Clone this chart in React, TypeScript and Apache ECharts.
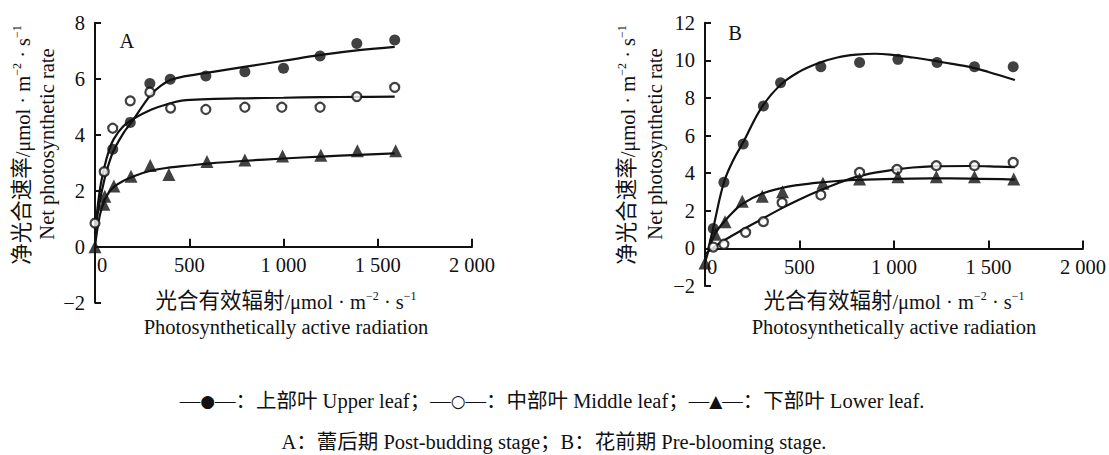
import React, { useEffect, useRef } from 'react';
import * as echarts from 'echarts';

// ---------- Data ----------
// Panel A: 蕾后期 Post-budding stage
const upperA: number[][] = [[94, 3.48], [187, 4.44], [291, 5.83], [399, 5.98], [588, 6.1], [795, 6.25], [1000, 6.37], [1194, 6.81], [1389, 7.26], [1590, 7.38]];
const middleA: number[][] = [[0, 0.84], [49, 2.68], [94, 4.23], [187, 5.21], [291, 5.52], [401, 4.95], [588, 4.9], [795, 4.98], [991, 4.98], [1194, 4.98], [1389, 5.36], [1590, 5.69]];
const lowerA: number[][] = [[0, 0], [47, 1.52], [52, 1.8], [100, 2.17], [191, 2.52], [293, 2.9], [392, 2.58], [594, 3.04], [795, 3.1], [995, 3.24], [1198, 3.27], [1392, 3.43], [1595, 3.43]];

const upperFitA: number[][] = [[0, 0.5], [25, 1.6], [50, 2.4], [75, 3.0], [100, 3.45], [150, 4.05], [200, 4.5], [250, 5.0], [300, 5.45], [350, 5.75], [400, 5.95], [450, 6.05], [600, 6.22], [800, 6.43], [1000, 6.64], [1200, 6.85], [1400, 7.02], [1590, 7.14]];
const middleFitA: number[][] = [[0, 0.5], [25, 2.0], [50, 2.85], [75, 3.45], [100, 3.85], [150, 4.3], [200, 4.55], [300, 4.9], [400, 5.12], [460, 5.22], [600, 5.27], [800, 5.3], [1000, 5.32], [1200, 5.34], [1400, 5.35], [1590, 5.36]];
const lowerFitA: number[][] = [[0, 0], [25, 1.1], [50, 1.65], [75, 1.95], [100, 2.14], [150, 2.35], [200, 2.5], [300, 2.72], [400, 2.83], [500, 2.9], [600, 2.97], [800, 3.07], [1000, 3.15], [1200, 3.22], [1400, 3.28], [1590, 3.33]];

// Panel B: 花前期 Pre-blooming stage
const upperB: number[][] = [[44, 1.06], [100, 3.52], [202, 5.55], [309, 7.57], [400, 8.81], [613, 9.66], [818, 9.88], [1021, 10.05], [1228, 9.88], [1426, 9.66], [1631, 9.66]];
const middleB: number[][] = [[44, 0.07], [100, 0.22], [215, 0.85], [309, 1.42], [408, 2.43], [613, 2.84], [818, 4.04], [1016, 4.2], [1224, 4.4], [1426, 4.4], [1631, 4.57]];
const lowerB: number[][] = [[0, -0.78], [55, 0.75], [106, 1.42], [197, 2.5], [303, 2.77], [410, 3.01], [624, 3.46], [818, 3.69], [1021, 3.81], [1224, 3.81], [1426, 3.81], [1634, 3.69]];

const upperFitB: number[][] = [[18, 0], [45, 1.15], [100, 3.5], [150, 4.7], [200, 5.6], [300, 7.5], [400, 8.7], [500, 9.4], [600, 9.85], [700, 10.15], [800, 10.3], [900, 10.35], [1000, 10.28], [1100, 10.15], [1200, 10.0], [1300, 9.82], [1400, 9.65], [1500, 9.38], [1640, 8.95]];
const middleFitB: number[][] = [[0, -0.3], [50, 0.08], [100, 0.42], [200, 1.0], [300, 1.55], [400, 2.1], [500, 2.6], [600, 3.05], [700, 3.45], [800, 3.8], [900, 4.03], [1000, 4.18], [1100, 4.3], [1200, 4.36], [1400, 4.38], [1550, 4.35], [1640, 4.32]];
const lowerFitB: number[][] = [[0, -0.78], [50, 0.72], [100, 1.4], [150, 1.95], [200, 2.38], [300, 2.9], [400, 3.2], [500, 3.38], [600, 3.5], [700, 3.58], [800, 3.64], [1000, 3.7], [1200, 3.72], [1400, 3.71], [1640, 3.66]];

// Axis ranges / tick steps
const xRange = [0, 2000];
const xStep = 500;
const yRangeA = [-2, 8];
const yRangeB = [-2, 12];
const yStep = 2;

// Texts
const panelLabels = ['A', 'B'];
const yNameCn = '净光合速率';
const xNameCn = '光合有效辐射';
const unitPrefix = '/μmol · m';
const yNameEn = 'Net photosynthetic rate';
const xNameEn = 'Photosynthetically active radiation';
const legendParts = ['—', '●', '—：上部叶 Upper leaf；—', '○', '—：中部叶 Middle leaf；—', '▲', '—：下部叶 Lower leaf.'];
const stageLine = 'A：蕾后期 Post-budding stage；B：花前期 Pre-blooming stage.';

const FONT = "'Liberation Serif', 'Times New Roman', 'Noto Sans CJK SC', serif";
const FS = 20.5;

function fmtX(v: number): string {
  if (v === 0) return '{z|0}';
  if (v >= 1000) return `${Math.floor(v / 1000)} ${String(v % 1000).padStart(3, '0')}`;
  return String(v);
}
function fmtY(v: number): string {
  return v < 0 ? '−' + Math.abs(v) : String(v);
}

const unitRich = {
  c: { fontSize: 21.5, fontFamily: FONT, fill: '#111', verticalAlign: 'bottom' },
  t: { fontSize: FS, fontFamily: FONT, fill: '#111', verticalAlign: 'bottom' },
  s: { fontSize: 12, fontFamily: FONT, fill: '#111', verticalAlign: 'top' },
};

function unitText(cn: string) {
  return `{c|${cn}}{t|${unitPrefix}}{s|−2}{t| · s}{s|−1}`;
}

export default function App() {
  const ref = useRef<HTMLDivElement>(null);
  useEffect(() => {
    const chart = echarts.init(ref.current!, null, { renderer: 'svg' });
    const grids = [
      { left: 95, top: 22.7, width: 377, height: 280 },
      { left: 705, top: 22.7, width: 378, height: 263.3 },
    ];
    const yRanges = [yRangeA, yRangeB];
    const xAxes = grids.map((g, i) => {
      const yr = yRanges[i];
      const zeroFromBottom = g.height * (0 - yr[0]) / (yr[1] - yr[0]);
      return {
        type: 'value', gridIndex: i, min: xRange[0], max: xRange[1], interval: xStep,
        position: 'bottom', offset: -zeroFromBottom,
        axisLine: { show: true, onZero: false, lineStyle: { color: '#111', width: 2 } },
        axisTick: { show: true, inside: true, length: 8, lineStyle: { color: '#111', width: 2 } },
        axisLabel: {
          margin: 8, fontSize: FS, color: '#111', fontFamily: FONT, formatter: fmtX,
          rich: { z: { fontSize: FS, fontFamily: FONT, color: '#111', padding: [0, 0, 0, 14] } },
        },
        splitLine: { show: false },
      };
    });
    const yAxes = grids.map((_, i) => ({
      type: 'value', gridIndex: i, min: yRanges[i][0], max: yRanges[i][1], interval: yStep,
      axisLine: { show: true, onZero: false, lineStyle: { color: '#111', width: 2 } },
      axisTick: { show: true, inside: true, length: 6, lineStyle: { color: '#111', width: 2 } },
      axisLabel: { margin: 10, fontSize: FS, color: '#111', fontFamily: FONT, formatter: fmtY },
      splitLine: { show: false },
    }));

    const fit = (data: number[][], i: number) => ({
      type: 'line', xAxisIndex: i, yAxisIndex: i, data, smooth: 0.4, showSymbol: false,
      symbol: 'none', lineStyle: { color: '#111', width: 2.2 }, z: 2, clip: false, silent: true,
    });
    const pts = (data: number[][], i: number, kind: 'filled' | 'open' | 'tri') => ({
      type: 'scatter', xAxisIndex: i, yAxisIndex: i, data, z: 5, clip: false,
      symbol: kind === 'tri' ? 'triangle' : 'circle',
      symbolSize: kind === 'tri' ? 13 : kind === 'open' ? 9 : 11,
      itemStyle: kind === 'open'
        ? { color: '#fff', borderColor: '#111', borderWidth: 2.2 }
        : { color: '#111' },
    });

    const txt = (x: number, y: number, text: string, extra: any = {}) => ({
      type: 'text', x, y, ...extra,
      style: { text, fontSize: FS, fontFamily: FONT, fill: '#111', align: 'center', verticalAlign: 'middle', ...(extra.style || {}) },
    });

    const graphic: any[] = [];
    graphic.push(txt(127, 41, panelLabels[0]));
    graphic.push(txt(735, 33, panelLabels[1]));
    const xNamePos = [286, 894];
    const yNamePos = [[22, 47], [627, 655]];
    for (let i = 0; i < 2; i++) {
      graphic.push(txt(xNamePos[i], 301, unitText(xNameCn), { style: { rich: unitRich } }));
      graphic.push(txt(xNamePos[i], 327, xNameEn));
      graphic.push(txt(yNamePos[i][0], 145, unitText(yNameCn), { rotation: Math.PI / 2, style: { rich: unitRich } }));
      graphic.push(txt(yNamePos[i][1], 144, yNameEn, { rotation: Math.PI / 2 }));
    }
    const legendRich = {
      n: { fontSize: FS, fontFamily: FONT, fill: '#111' },
      m: { fontSize: 17, fontFamily: "'DejaVu Sans', sans-serif", fill: '#111' },
    };
    const legendText = legendParts.map((p, k) => (k % 2 === 1 ? `{m|${p}}` : `{n|${p}}`)).join('');
    graphic.push(txt(552, 401, legendText, { style: { rich: legendRich } }));
    graphic.push(txt(554, 442, stageLine));

    chart.setOption({
      animation: false,
      backgroundColor: '#fff',
      grid: grids,
      xAxis: xAxes,
      yAxis: yAxes,
      graphic,
      series: [
        fit(upperFitA, 0), fit(middleFitA, 0), fit(lowerFitA, 0),
        pts(upperA, 0, 'filled'), pts(middleA, 0, 'open'), pts(lowerA, 0, 'tri'),
        fit(upperFitB, 1), fit(middleFitB, 1), fit(lowerFitB, 1),
        pts(upperB, 1, 'filled'), pts(middleB, 1, 'open'), pts(lowerB, 1, 'tri'),
      ],
    } as any);
    return () => chart.dispose();
  }, []);
  return <div ref={ref} style={{ position: 'fixed', left: 0, top: 0, width: 1109, height: 455, background: '#fff' }} />;
}
